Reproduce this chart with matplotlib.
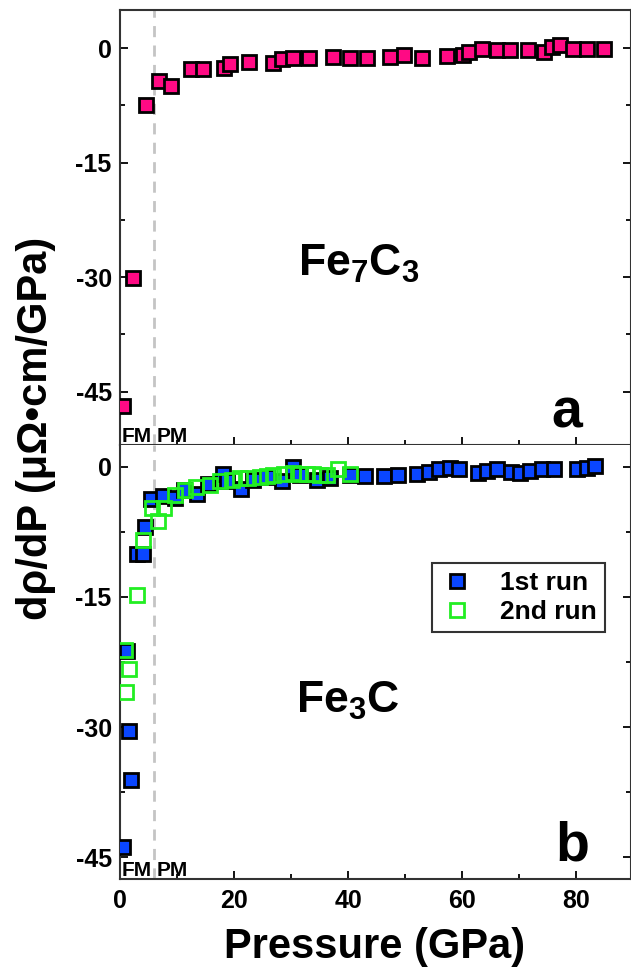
import matplotlib
matplotlib.use('Agg')
import matplotlib.pyplot as plt
from matplotlib.ticker import MultipleLocator

plt.rcParams['font.family'] = ['Liberation Sans', 'DejaVu Sans']
plt.rcParams['font.weight'] = 'bold'
plt.rcParams['mathtext.fontset'] = 'custom'
plt.rcParams['mathtext.rm'] = 'Liberation Sans:bold'
plt.rcParams['mathtext.bf'] = 'Liberation Sans:bold'
plt.rcParams['mathtext.it'] = 'Liberation Sans:bold'
plt.rcParams['mathtext.default'] = 'bf'
plt.rcParams['axes.unicode_minus'] = False

# panel a: Fe7C3
fe7c3_p = [0.6, 2.2, 4.5, 6.9, 9.0, 12.5, 14.6, 18.2, 19.3, 22.6, 26.9, 28.4,
           30.4, 33.1, 37.3, 40.4, 43.3, 47.4, 49.8, 52.9, 57.3, 60.2, 61.2,
           63.4, 66.1, 68.3, 71.6, 74.3, 75.7, 77.1, 79.5, 81.8, 84.8]
fe7c3_d = [-46.9, -30.1, -7.5, -4.3, -4.95, -2.75, -2.7, -2.6, -2.05, -1.75,
           -1.95, -1.45, -1.25, -1.25, -1.2, -1.3, -1.35, -1.2, -0.9, -1.3,
           -1.0, -0.9, -0.55, -0.15, -0.2, -0.2, -0.2, -0.45, 0.1, 0.4, -0.15,
           -0.1, -0.05]

# panel b: Fe3C, 1st run
run1_p = [0.6, 1.2, 1.5, 1.9, 3.0, 4.1, 4.4, 5.5, 7.5, 9.7, 11.3, 13.5, 15.5,
          18.0, 18.7, 21.3, 23.4, 25.7, 28.4, 30.4, 31.6, 34.5, 36.8, 40.4,
          43.0, 46.3, 48.8, 52.0, 54.1, 56.0, 57.9, 59.4, 62.7, 64.3, 66.1,
          68.6, 70.1, 71.9, 74.0, 76.1, 80.1, 81.9, 83.3]
run1_d = [-43.8, -21.2, -30.5, -36.1, -10.1, -10.1, -6.9, -3.7, -3.4, -3.6,
          -2.7, -3.15, -2.0, -0.8, -1.7, -2.6, -1.5, -1.15, -1.7, 0.0, -0.95,
          -1.5, -1.35, -0.96, -1.07, -1.07, -1.0, -0.8, -0.58, -0.3, -0.19,
          -0.27, -0.69, -0.46, -0.27, -0.58, -0.69, -0.46, -0.27, -0.27,
          -0.27, -0.12, 0.08]

# panel b: Fe3C, 2nd run
run2_p = [0.9, 1.05, 1.6, 2.9, 4.0, 5.6, 6.6, 7.8, 9.6, 11.4, 13.4, 15.8,
          17.5, 19.6, 21.1, 22.5, 24.6, 25.7, 26.9, 28.7, 30.4, 31.6, 32.8,
          33.9, 35.1, 36.3, 38.3, 40.4]
run2_d = [-21.1, -25.9, -23.3, -14.8, -8.5, -4.8, -6.2, -4.8, -3.3, -2.65,
          -2.3, -2.1, -1.7, -1.5, -1.35, -1.35, -1.15, -1.07, -0.96, -0.88,
          -0.77, -0.84, -0.84, -0.88, -0.96, -0.96, -0.3, -0.88]

PINK = '#ff0a84'
BLUE = '#0a46ff'
GREEN = '#22ee22'
SPINE = '#333333'
TC = 6  # FM/PM boundary (GPa)

fig = plt.figure(figsize=(6.31, 9.67), dpi=100)
ax1 = fig.add_axes([120/631, 1 - 445/967, 511/631, 435/967])
ax2 = fig.add_axes([120/631, 1 - 879/967, 511/631, 434/967])


def style(ax, xlabels):
    ax.set_xlim(0, 89.6)
    ax.xaxis.set_major_locator(MultipleLocator(20))
    ax.xaxis.set_minor_locator(MultipleLocator(10))
    ax.yaxis.set_major_locator(MultipleLocator(15))
    ax.yaxis.set_minor_locator(MultipleLocator(7.5))
    ax.tick_params(which='both', direction='in', right=True, top=False,
                   labelsize=18, colors='black', width=1.3)
    ax.tick_params(which='major', length=6)
    ax.tick_params(which='minor', length=3.5)
    ax.tick_params(axis='x', labelbottom=xlabels, pad=7)
    ax.tick_params(axis='y', pad=6)
    for s in ax.spines.values():
        s.set_color(SPINE)
        s.set_linewidth(1.5)
    for lab in ax.get_xticklabels() + ax.get_yticklabels():
        lab.set_fontweight('bold')
    ax.axvline(TC, color='#c4c4c4', lw=2, ls=(0, (4, 3)), zorder=1)


style(ax1, False)
style(ax2, True)
ax1.set_ylim(-52, 5)
ax2.set_ylim(-47.5, 2.5)
ax2.spines['top'].set_visible(False)

ax1.plot(fe7c3_p, fe7c3_d, 's', ms=10, mfc=PINK, mec='black', mew=2, zorder=3)
ax2.plot(run1_p, run1_d, 's', ms=9.5, mfc=BLUE, mec='black', mew=2, zorder=3,
         label='1st run')
ax2.plot(run2_p, run2_d, 's', ms=9.5, mfc='none', mec=GREEN, mew=2, zorder=4,
         label='2nd run')

ax1.text(41.8, -28.3, r'$Fe_7C_3$', fontsize=32, ha='center', va='center')
ax2.text(40.0, -27, r'$Fe_3C$', fontsize=32, ha='center', va='center')
ax1.text(78.4, -49.7, 'a', fontsize=40, fontweight='bold', ha='center', va='baseline')
ax2.text(79.3, -45.4, 'b', fontsize=40, fontweight='bold', ha='center', va='baseline')

for ax, yb in ((ax1, -51.6), (ax2, -47.1)):
    ax.text(0.3, yb, 'FM', fontsize=15, fontweight='bold', va='baseline', ha='left')
    ax.text(6.4, yb, 'PM', fontsize=15, fontweight='bold', va='baseline', ha='left')

leg = ax2.legend(loc='upper right', bbox_to_anchor=(0.949, 0.728),
                 fontsize=19, frameon=True, fancybox=False, edgecolor='black',
                 handletextpad=1.0, borderpad=0.3, labelspacing=0.2,
                 handlelength=1.3, markerscale=1.0, borderaxespad=0)
leg.get_frame().set_linewidth(1.5)
for t in leg.get_texts():
    t.set_fontweight('bold')

fig.text(36/631, 1 - 428/967, 'dρ/dP (μΩ•cm/GPa)', rotation=90, fontsize=30,
         fontweight='bold', ha='center', va='center')
fig.text(375/631, 1 - 958/967, 'Pressure (GPa)', fontsize=30,
         fontweight='bold', ha='center', va='baseline')

fig.savefig('out.png', dpi=100)
